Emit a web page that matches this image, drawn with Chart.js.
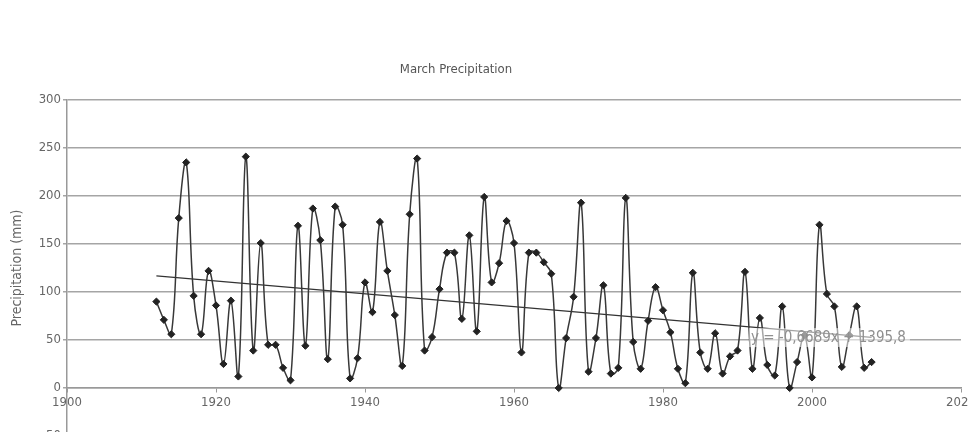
<!DOCTYPE html>
<html>
<head>
<meta charset="utf-8">
<script src="https://cdn.jsdelivr.net/npm/chart.js@4.4.1/dist/chart.umd.min.js"></script>
<style>
  html, body { margin: 0; padding: 0; background: #fff; overflow: hidden; }
  #wrap { width: 969px; height: 450px; position: relative; }
</style>
</head>
<body>
<div id="wrap"><canvas id="precipChart"></canvas></div>
<script>
// March precipitation (mm), one value per year starting 1912
const firstYear = 1912;
const precipValues = [
    90, 71, 56, 177, 235, 96, 56, 122, 86, 25,
    91, 12, 241, 39, 151, 45, 45, 21, 8, 169,
    44, 187, 154, 30, 189, 170, 10, 31, 110, 79,
    173, 122, 76, 23, 181, 239, 39, 53, 103, 141,
    141, 72, 159, 59, 199, 110, 130, 174, 151, 37,
    141, 141, 131, 119, 0, 52, 95, 193, 17, 52,
    107, 15, 21, 198, 48, 20, 70, 105, 81, 58,
    20, 5, 120, 37, 20, 57, 15, 33, 39, 121,
    20, 73, 24, 13, 85, 0, 27, 55, 11, 170,
    98, 85, 22, 55, 85, 21, 27
];
const years = precipValues.map((v, i) => firstYear + i);

// linear trend as printed on the chart
const trendSlope = -0.6689;
const trendIntercept = 1395.8;
const trendLabel = 'y = -0,6689x + 1395,8';

const xTicks = [1900, 1920, 1940, 1960, 1980, 2000, 2020];
const yTicks = [-50, 0, 50, 100, 150, 200, 250, 300];

const fontFamily = "'Liberation Sans Narrow', 'DejaVu Sans Condensed', sans-serif";
const textColor = '#666';

const seriesPoints = years.map((y, i) => ({ x: y, y: precipValues[i] }));
const trendYears = [years[0], years[years.length - 1]];
const trendPoints = trendYears.map(y => ({ x: y, y: trendSlope * y + trendIntercept }));

const titlePlugin = {
    id: 'titleAndLabel',
    afterDatasetsDraw(chart) {
        const ctx = chart.ctx;
        const xs = chart.scales.x, ys = chart.scales.y;
        // trend equation with a pale box behind it
        const lx = xs.getPixelForValue(1991.8);
        const ly = ys.getPixelForValue(52);
        ctx.save();
        ctx.font = '15px ' + fontFamily;
        const w = ctx.measureText(trendLabel).width;
        ctx.fillStyle = 'rgba(255,255,255,0.55)';
        ctx.fillRect(lx - 2, ly - 10, w + 6, 19);
        ctx.fillStyle = '#8f8f8f';
        ctx.textBaseline = 'middle';
        ctx.fillText(trendLabel, lx, ly);
        ctx.restore();
    },
    afterDraw(chart) {
        const ctx = chart.ctx;
        ctx.save();
        ctx.font = '13px ' + fontFamily;
        ctx.fillStyle = '#555';
        ctx.textAlign = 'center';
        ctx.textBaseline = 'middle';
        ctx.fillText('March Precipitation', 456, 70);
        ctx.restore();
    }
};

new Chart(document.getElementById('precipChart'), {
    type: 'scatter',
    data: {
        datasets: [
            {
                label: 'Precipitation',
                data: seriesPoints,
                showLine: true,
                tension: 0.4,
                borderColor: '#383838',
                borderWidth: 1.5,
                pointStyle: 'rectRot',
                pointRadius: 3.6,
                pointBackgroundColor: '#222',
                pointBorderColor: '#222',
                pointBorderWidth: 1,
                order: 1
            },
            {
                label: 'Trend',
                data: trendPoints,
                showLine: true,
                tension: 0,
                borderColor: '#333',
                borderWidth: 1.3,
                pointRadius: 0,
                order: 2
            }
        ]
    },
    options: {
        responsive: true,
        maintainAspectRatio: false,
        animation: false,
        layout: { padding: { top: 100, right: 8, bottom: 14, left: 0 } },
        plugins: {
            legend: { display: false },
            tooltip: { enabled: false },
            title: { display: false }
        },
        scales: {
            x: {
                type: 'linear',
                position: { y: 0 },
                min: 1900,
                max: 2020,
                afterBuildTicks: (axis) => { axis.ticks = xTicks.map(v => ({ value: v })); },
                afterFit: (axis) => { axis.height = 0; axis.paddingRight = 0; axis.paddingLeft = 0; },
                ticks: {
                    color: textColor,
                    font: { family: fontFamily, size: 13 },
                    padding: 3,
                    maxRotation: 0,
                    callback: (v) => String(v)
                },
                grid: { drawOnChartArea: false, drawTicks: true, tickLength: 4, color: '#999' },
                border: { color: '#999', width: 1.5 }
            },
            y: {
                min: -50,
                max: 300,
                afterBuildTicks: (axis) => { axis.ticks = yTicks.map(v => ({ value: v })); },
                afterFit: (axis) => { axis.width = 67; },
                ticks: {
                    color: textColor,
                    font: { family: fontFamily, size: 13 },
                    padding: 2
                },
                grid: { color: '#a5a5a5', lineWidth: 1.5, tickLength: 4 },
                border: { color: '#999', width: 1.5 },
                title: {
                    display: true,
                    text: 'Precipitation (mm)',
                    color: textColor,
                    font: { family: fontFamily, size: 14 },
                    padding: { top: 9, bottom: 0 }
                }
            }
        }
    },
    plugins: [titlePlugin]
});
</script>
</body>
</html>
